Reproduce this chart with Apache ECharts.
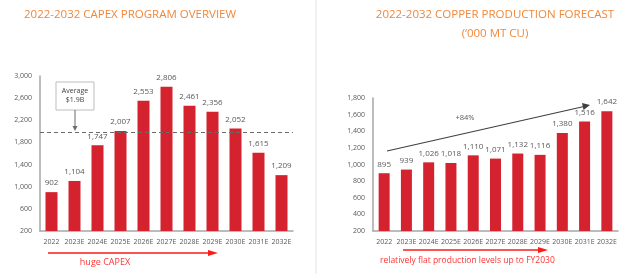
<!DOCTYPE html>
<html>
<head>
<meta charset="utf-8">
<script src="https://cdn.jsdelivr.net/npm/echarts@6/dist/echarts.min.js"></script>
<style>
  html, body { margin: 0; padding: 0; background: #fff; }
  #main { width: 640px; height: 274px; }
</style>
</head>
<body>
<div id="main"></div>
<script>
// categories
let years = ['2022', '2023E', '2024E', '2025E', '2026E', '2027E', '2028E', '2029E', '2030E', '2031E', '2032E']
// capex ($m)
let capex = [902, 1104, 1747, 2007, 2553, 2806, 2461, 2356, 2052, 1615, 1209]
let capexAvg = 1980
// copper production ('000 mt)
let copper = [895, 939, 1026, 1018, 1110, 1071, 1132, 1116, 1380, 1516, 1642]

let red = '#d4222f'
let orange = '#f0883c'
let gray = '#595959'

let myChart = echarts.init(document.getElementById('main'))

let axisX = (idx) => ({
  type: 'category',
  gridIndex: idx,
  data: years,
  axisTick: { show: false },
  axisLine: { lineStyle: { color: '#a6a6a6', width: 1.5 } },
  axisLabel: { color: gray, fontSize: 7, margin: 7, interval: 0, fontFamily: 'Open Sans' }
})
let axisY = (idx, max, step) => ({
  type: 'value',
  gridIndex: idx,
  min: 200,
  max: max,
  interval: step,
  splitLine: { show: false },
  axisTick: { show: false },
  axisLine: { show: true, lineStyle: { color: '#a6a6a6', width: 1.5 } },
  axisLabel: {
    color: gray, fontSize: 7, margin: 8, fontFamily: 'Open Sans',
    formatter: v => v.toLocaleString('en-US')
  }
})
let barLabel = {
  show: true,
  position: 'top',
  distance: 5,
  color: gray,
  fontSize: 8,
  fontFamily: 'Open Sans',
  formatter: p => p.value.toLocaleString('en-US')
}

let option = {
  animation: false,
  grid: [
    { left: 40, right: 347, top: 76, bottom: 43 },
    { left: 373, right: 22, top: 98, bottom: 43 }
  ],
  xAxis: [axisX(0), axisX(1)],
  yAxis: [axisY(0, 3000, 400), axisY(1, 1800, 200)],
  series: [
    {
      type: 'bar',
      xAxisIndex: 0,
      yAxisIndex: 0,
      data: capex,
      barWidth: 12,
      itemStyle: { color: red },
      label: barLabel,
      markLine: {
        silent: true,
        symbol: 'none',
        label: { show: false },
        lineStyle: { color: '#6b6b6b', type: [4, 3], width: 1 },
        data: [{ yAxis: capexAvg }]
      }
    },
    {
      type: 'bar',
      xAxisIndex: 1,
      yAxisIndex: 1,
      data: copper,
      barWidth: 11,
      itemStyle: { color: red },
      label: barLabel
    }
  ],
  graphic: [
    // 标题
    {
      type: 'text', left: 24, top: 9,
      style: { text: '2022-2032 CAPEX PROGRAM OVERVIEW', fill: orange, font: '11.5px "Open Sans"' }
    },
    {
      type: 'text', x: 495, y: 9,
      style: { text: '2022-2032 COPPER PRODUCTION FORECAST', fill: orange, font: '11.5px "Open Sans"', align: 'center' }
    },
    {
      type: 'text', x: 495, y: 28,
      style: { text: '(\u2018000 MT CU)', fill: orange, font: '11.5px "Open Sans"', align: 'center' }
    },
    // 分隔线
    { type: 'line', shape: { x1: 316, y1: 0, x2: 316, y2: 274 }, style: { stroke: '#e3e3e3', lineWidth: 1 } },
    // 平均值注释框
    { type: 'rect', shape: { x: 56, y: 82, width: 38, height: 28 }, style: { fill: '#fff', stroke: '#bdbdbd', lineWidth: 1 } },
    {
      type: 'text', x: 75, y: 86,
      style: { text: 'Average\n$1.9B', fill: '#404040', font: '7px "Open Sans"', align: 'center', lineHeight: 9 }
    },
    { type: 'line', shape: { x1: 75, y1: 110, x2: 75, y2: 129 }, style: { stroke: '#6b6b6b', lineWidth: 1 } },
    { type: 'polygon', shape: { points: [[72.5, 126], [77.5, 126], [75, 131]] }, style: { fill: '#6b6b6b' } },
    // huge CAPEX 箭头
    { type: 'line', shape: { x1: 48, y1: 253, x2: 212, y2: 253 }, style: { stroke: '#ff1a1a', lineWidth: 1.5 } },
    { type: 'polygon', shape: { points: [[208, 250], [218, 253], [208, 256]] }, style: { fill: '#ff1a1a' } },
    {
      type: 'text', x: 105, y: 262,
      style: { text: 'huge CAPEX', fill: '#ff3333', font: '9px "Open Sans"', align: 'center', verticalAlign: 'middle' }
    },
    // +84% 趋势箭头
    { type: 'line', shape: { x1: 387, y1: 151, x2: 584, y2: 106.5 }, style: { stroke: '#404040', lineWidth: 1.2 } },
    { type: 'polygon', shape: { points: [[582, 103], [590, 105], [583.5, 110]] }, style: { fill: '#404040' } },
    {
      type: 'text', x: 465, y: 118,
      style: { text: '+84%', fill: gray, font: '7.5px "Open Sans"', align: 'center', verticalAlign: 'middle' }
    },
    // flat production 箭头
    { type: 'line', shape: { x1: 403, y1: 250, x2: 542, y2: 250 }, style: { stroke: '#ff1a1a', lineWidth: 1.5 } },
    { type: 'polygon', shape: { points: [[538, 247], [548, 250], [538, 253]] }, style: { fill: '#ff1a1a' } },
    {
      type: 'text', x: 380, y: 261,
      style: { text: 'relatively flat production levels up to FY2030', fill: '#ff3333', font: '8.5px "Open Sans"', verticalAlign: 'middle' }
    }
  ]
}
myChart.setOption(option)
</script>
</body>
</html>
